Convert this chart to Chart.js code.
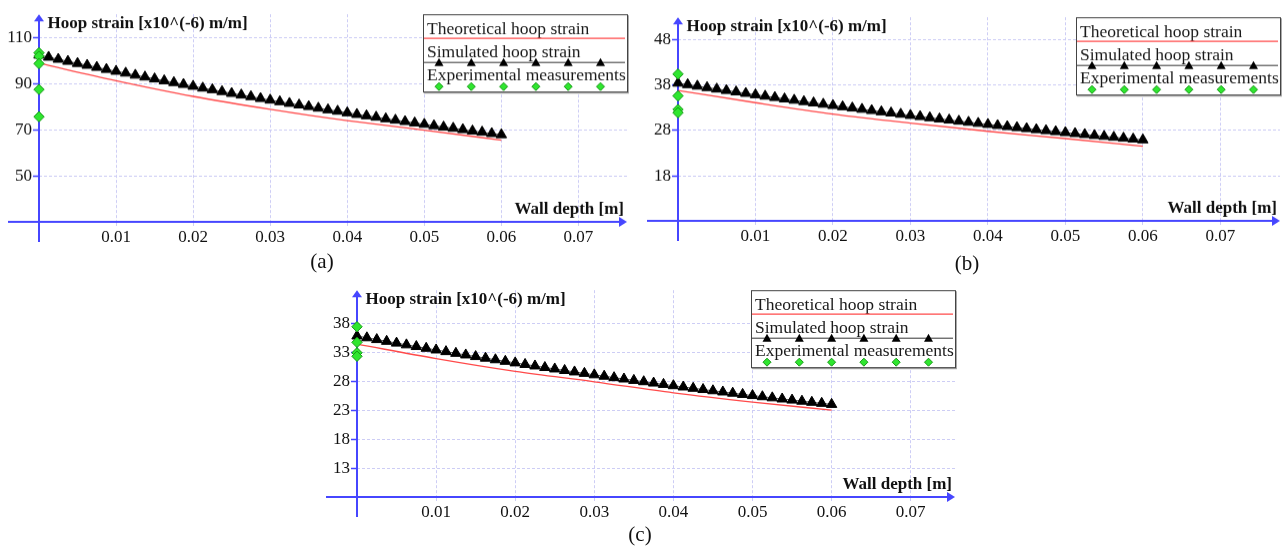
<!DOCTYPE html>
<html>
<head>
<meta charset="utf-8">
<script src="https://cdn.jsdelivr.net/npm/chart.js@4.4.1/dist/chart.umd.min.js"></script>
<style>
html, body { margin: 0; padding: 0; background: #fff; }
body { width: 1288px; height: 553px; position: relative; overflow: hidden; font-family: "Liberation Serif", "Times New Roman", serif; }
canvas { position: absolute; }
.cap { position: absolute; font-size: 21px; line-height: 21px; color: #111; transform: translateX(-50%); white-space: nowrap; }
</style>
</head>
<body>
<canvas id="chartA"></canvas>
<canvas id="chartB"></canvas>
<canvas id="chartC"></canvas>
<div class="cap" style="left:322px; top:251px;">(a)</div>
<div class="cap" style="left:967px; top:253px;">(b)</div>
<div class="cap" style="left:640px; top:524px;">(c)</div>
<script>
// Dati
const depthTheory = [0, 0.01, 0.02, 0.03, 0.04, 0.05, 0.06];
const depthSim = [0, 0.00125, 0.0025, 0.00375, 0.005, 0.00625, 0.0075, 0.00875, 0.01, 0.01125, 0.0125, 0.01375,
    0.015, 0.01625, 0.0175, 0.01875, 0.02, 0.02125, 0.0225, 0.02375, 0.025, 0.02625, 0.0275, 0.02875,
    0.03, 0.03125, 0.0325, 0.03375, 0.035, 0.03625, 0.0375, 0.03875, 0.04, 0.04125, 0.0425, 0.04375,
    0.045, 0.04625, 0.0475, 0.04875, 0.05, 0.05125, 0.0525, 0.05375, 0.055, 0.05625, 0.0575, 0.05875, 0.06];

const theoryA = [99.0, 91.4, 84.6, 79.0, 74.1, 70.0, 65.6];
const simA = [102.5, 101.6, 100.7, 99.8, 98.9, 98.1, 97.2, 96.3, 95.5, 94.7, 93.8, 93.0, 92.2, 91.4, 90.6, 89.8,
    89.0, 88.2, 87.5, 86.7, 85.9, 85.2, 84.5, 83.7, 83.0, 82.3, 81.6, 80.9, 80.2, 79.5, 78.8, 78.2,
    77.5, 76.8, 76.2, 75.6, 74.9, 74.3, 73.7, 73.1, 72.5, 71.9, 71.3, 70.8, 70.2, 69.6, 69.1, 68.5, 68.0];
const expA = [103.5, 102.0, 98.8, 87.6, 75.8];

const theoryB = [36.8, 34.1, 31.6, 29.6, 27.8, 26.2, 24.5];
const simB = [38.4, 38.07, 37.74, 37.42, 37.1, 36.78, 36.47, 36.15, 35.84, 35.54, 35.24, 34.93, 34.64, 34.34, 34.05, 33.76,
    33.48, 33.2, 32.92, 32.64, 32.37, 32.09, 31.83, 31.56, 31.3, 31.04, 30.78, 30.53, 30.28, 30.03, 29.79, 29.55,
    29.31, 29.08, 28.84, 28.61, 28.39, 28.16, 27.94, 27.72, 27.51, 27.3, 27.09, 26.88, 26.68, 26.48, 26.28, 26.09, 25.9];
const expB = [40.4, 35.6, 32.6, 31.9];

const theoryC = [34.4, 31.9, 29.7, 27.9, 26.0, 24.4, 23.0];
const simC = [35.8, 35.49, 35.18, 34.88, 34.57, 34.27, 33.98, 33.68, 33.39, 33.1, 32.81, 32.53, 32.25, 31.97, 31.7, 31.43,
    31.16, 30.89, 30.63, 30.36, 30.11, 29.85, 29.6, 29.35, 29.1, 28.86, 28.61, 28.38, 28.14, 27.91, 27.68, 27.45,
    27.22, 27.0, 26.78, 26.56, 26.35, 26.14, 25.93, 25.72, 25.52, 25.32, 25.13, 24.93, 24.74, 24.55, 24.36, 24.18, 24.0];
const expC = [37.4, 34.7, 32.9, 32.3];

const xTicks = [0.01, 0.02, 0.03, 0.04, 0.05, 0.06, 0.07];
const xTickLabels = ['0.01', '0.02', '0.03', '0.04', '0.05', '0.06', '0.07'];
const yTicksA = [50, 70, 90, 110];
const yTicksB = [18, 28, 38, 48];
const yTicksC = [13, 18, 23, 28, 33, 38];

const legendLabels = ['Theoretical hoop strain', 'Simulated hoop strain', 'Experimental measurements'];
const yTitle = 'Hoop strain [x10^(-6) m/m]';
const xTitle = 'Wall depth [m]';

const AXIS_BLUE = '#4646ff';
const GRID = '#cdcdf5';
const RED = '#ff4a4a';
const GREEN = '#2fe62f';
const GREEN_DARK = '#159a15';

Chart.defaults.font.family = '"Liberation Serif", "Times New Roman", serif';
Chart.defaults.font.size = 17;
Chart.defaults.color = '#111';

const toPoints = (xs, ys) => ys.map((y, i) => ({ x: xs[i], y }));

// assi con frecce, titoli e legenda disegnati come nel grafico originale
const mapleAxes = {
    id: 'mapleAxes',
    beforeDatasetsDraw(chart) {
        const { ctx, chartArea: a } = chart;
        ctx.save();
        ctx.strokeStyle = AXIS_BLUE;
        ctx.fillStyle = AXIS_BLUE;
        ctx.lineWidth = 2;
        // asse y
        ctx.beginPath();
        ctx.moveTo(a.left, a.bottom + 20);
        ctx.lineTo(a.left, a.top + 5);
        ctx.stroke();
        ctx.beginPath();
        ctx.moveTo(a.left, a.top);
        ctx.lineTo(a.left - 5, a.top + 7);
        ctx.lineTo(a.left + 5, a.top + 7);
        ctx.closePath();
        ctx.fill();
        // asse x
        ctx.beginPath();
        ctx.moveTo(a.left - 31, a.bottom);
        ctx.lineTo(a.right - 5, a.bottom);
        ctx.stroke();
        ctx.beginPath();
        ctx.moveTo(a.right, a.bottom);
        ctx.lineTo(a.right - 8, a.bottom - 5);
        ctx.lineTo(a.right - 8, a.bottom + 5);
        ctx.closePath();
        ctx.fill();
        ctx.restore();
    },
    afterDraw(chart) {
        const { ctx, chartArea: a } = chart;
        ctx.save();
        ctx.fillStyle = '#111';
        ctx.textBaseline = 'alphabetic';
        ctx.font = 'bold 17px "Liberation Serif"';
        ctx.textAlign = 'left';
        ctx.fillText(yTitle, a.left + 8.5, a.top + 14);
        ctx.textAlign = 'right';
        ctx.fillText(xTitle, a.right - 3, a.bottom - 8);

        // legenda
        const w = 204, h = 77;
        const bx = a.right - w, by = a.top;
        ctx.fillStyle = '#fff';
        ctx.fillRect(bx, by, w, h);
        ctx.strokeStyle = '#aaa';
        ctx.lineWidth = 2;
        ctx.beginPath();
        ctx.moveTo(bx + 1, by + h + 1);
        ctx.lineTo(bx + w + 1, by + h + 1);
        ctx.lineTo(bx + w + 1, by + 1);
        ctx.stroke();
        ctx.strokeStyle = '#444';
        ctx.lineWidth = 1;
        ctx.strokeRect(bx + 0.5, by + 0.5, w, h);

        ctx.font = '17.5px "Liberation Serif"';
        ctx.textAlign = 'left';
        ctx.fillStyle = '#1a1a1a';
        const rows = [19.5, 43, 66];
        legendLabels.forEach((t, i) => ctx.fillText(t, bx + 4, by + rows[i]));

        ctx.strokeStyle = RED;
        ctx.lineWidth = 1.2;
        ctx.beginPath();
        ctx.moveTo(bx + 1, by + 24);
        ctx.lineTo(bx + w - 2, by + 24);
        ctx.stroke();
        ctx.strokeStyle = '#333';
        ctx.lineWidth = 1;
        ctx.beginPath();
        ctx.moveTo(bx + 1, by + 48);
        ctx.lineTo(bx + w - 2, by + 48);
        ctx.stroke();
        for (let k = 0; k < 6; k++) {
            const mx = bx + 16 + k * 32.3;
            ctx.fillStyle = '#000';
            ctx.beginPath();
            ctx.moveTo(mx, by + 43.5);
            ctx.lineTo(mx - 4.5, by + 51.5);
            ctx.lineTo(mx + 4.5, by + 51.5);
            ctx.closePath();
            ctx.fill();
            ctx.fillStyle = GREEN;
            ctx.strokeStyle = GREEN_DARK;
            ctx.beginPath();
            ctx.moveTo(mx, by + 68);
            ctx.lineTo(mx + 4, by + 72);
            ctx.lineTo(mx, by + 76);
            ctx.lineTo(mx - 4, by + 72);
            ctx.closePath();
            ctx.fill();
            ctx.stroke();
        }
        ctx.restore();
    }
};

const makePanel = (id, area, limits, yTicks, theory, sim, exp) => {
    const canvas = document.getElementById(id);
    const cvLeft = Math.max(0, area.left - 40);
    const cvTop = area.top - 6;
    const cvRight = Math.min(1288, area.right + 8);
    const cvBottom = area.bottom + 32;
    canvas.width = cvRight - cvLeft;
    canvas.height = cvBottom - cvTop;
    canvas.style.left = cvLeft + 'px';
    canvas.style.top = cvTop + 'px';
    canvas.style.width = (cvRight - cvLeft) + 'px';
    canvas.style.height = (cvBottom - cvTop) + 'px';

    new Chart(canvas, {
        type: 'line',
        data: {
            datasets: [{
                label: legendLabels[2],
                data: exp.map(y => ({ x: 0, y })),
                showLine: false,
                pointStyle: 'rectRot',
                pointRadius: 5.2,
                backgroundColor: GREEN,
                borderColor: GREEN_DARK,
                pointBorderWidth: 1,
                clip: false,
            }, {
                label: legendLabels[1],
                data: toPoints(depthSim, sim),
                borderColor: '#555',
                borderWidth: 1,
                pointStyle: 'triangle',
                pointRadius: 6,
                backgroundColor: '#000',
                pointBorderColor: '#000',
                pointBorderWidth: 1,
                clip: false,
            }, {
                label: legendLabels[0],
                data: toPoints(depthTheory, theory),
                borderColor: RED,
                borderWidth: 1.3,
                pointRadius: 0,
                cubicInterpolationMode: 'monotone',
                clip: false,
            }],
        },
        options: {
            responsive: false,
            animation: false,
            devicePixelRatio: 1,
            layout: { padding: { top: 6, right: cvRight - area.right, left: 0, bottom: 0 } },
            plugins: { legend: { display: false }, tooltip: { enabled: false } },
            scales: {
                x: {
                    type: 'linear',
                    min: 0,
                    max: limits.xMax,
                    afterBuildTicks: (s) => { s.ticks = xTicks.map(v => ({ value: v })); },
                    afterFit: (s) => { s.height = 32; },
                    ticks: {
                        autoSkip: false,
                        maxRotation: 0,
                        padding: 1,
                        callback: (v, i) => xTickLabels[i],
                    },
                    grid: { color: GRID, tickColor: GRID, tickLength: 4, lineWidth: 1 },
                    border: { display: false, dash: [3, 2] },
                },
                y: {
                    type: 'linear',
                    min: limits.yMin,
                    max: limits.yMax,
                    afterBuildTicks: (s) => { s.ticks = yTicks.map(v => ({ value: v })); },
                    afterFit: (s) => { s.width = area.left - cvLeft; },
                    ticks: { autoSkip: false, padding: 1, callback: (v) => String(v) },
                    grid: { color: GRID, tickColor: AXIS_BLUE, tickLength: 6, tickWidth: 1.5, lineWidth: 1 },
                    border: { display: false, dash: [3, 2] },
                },
            },
        },
        plugins: [mapleAxes],
    });
};

makePanel('chartA', { left: 39, top: 9, right: 627, bottom: 221.5 },
    { xMax: 0.0763, yMin: 30.2, yMax: 120.2 }, yTicksA, theoryA, simA, expA);
makePanel('chartB', { left: 677.7, top: 12, right: 1280, bottom: 220.5 },
    { xMax: 0.0777, yMin: 8.07, yMax: 52.9 }, yTicksB, theoryB, simB, expB);
makePanel('chartC', { left: 356.7, top: 285, right: 955, bottom: 497.3 },
    { xMax: 0.0756, yMin: 8.02, yMax: 43.7 }, yTicksC, theoryC, simC, expC);
</script>
</body>
</html>
